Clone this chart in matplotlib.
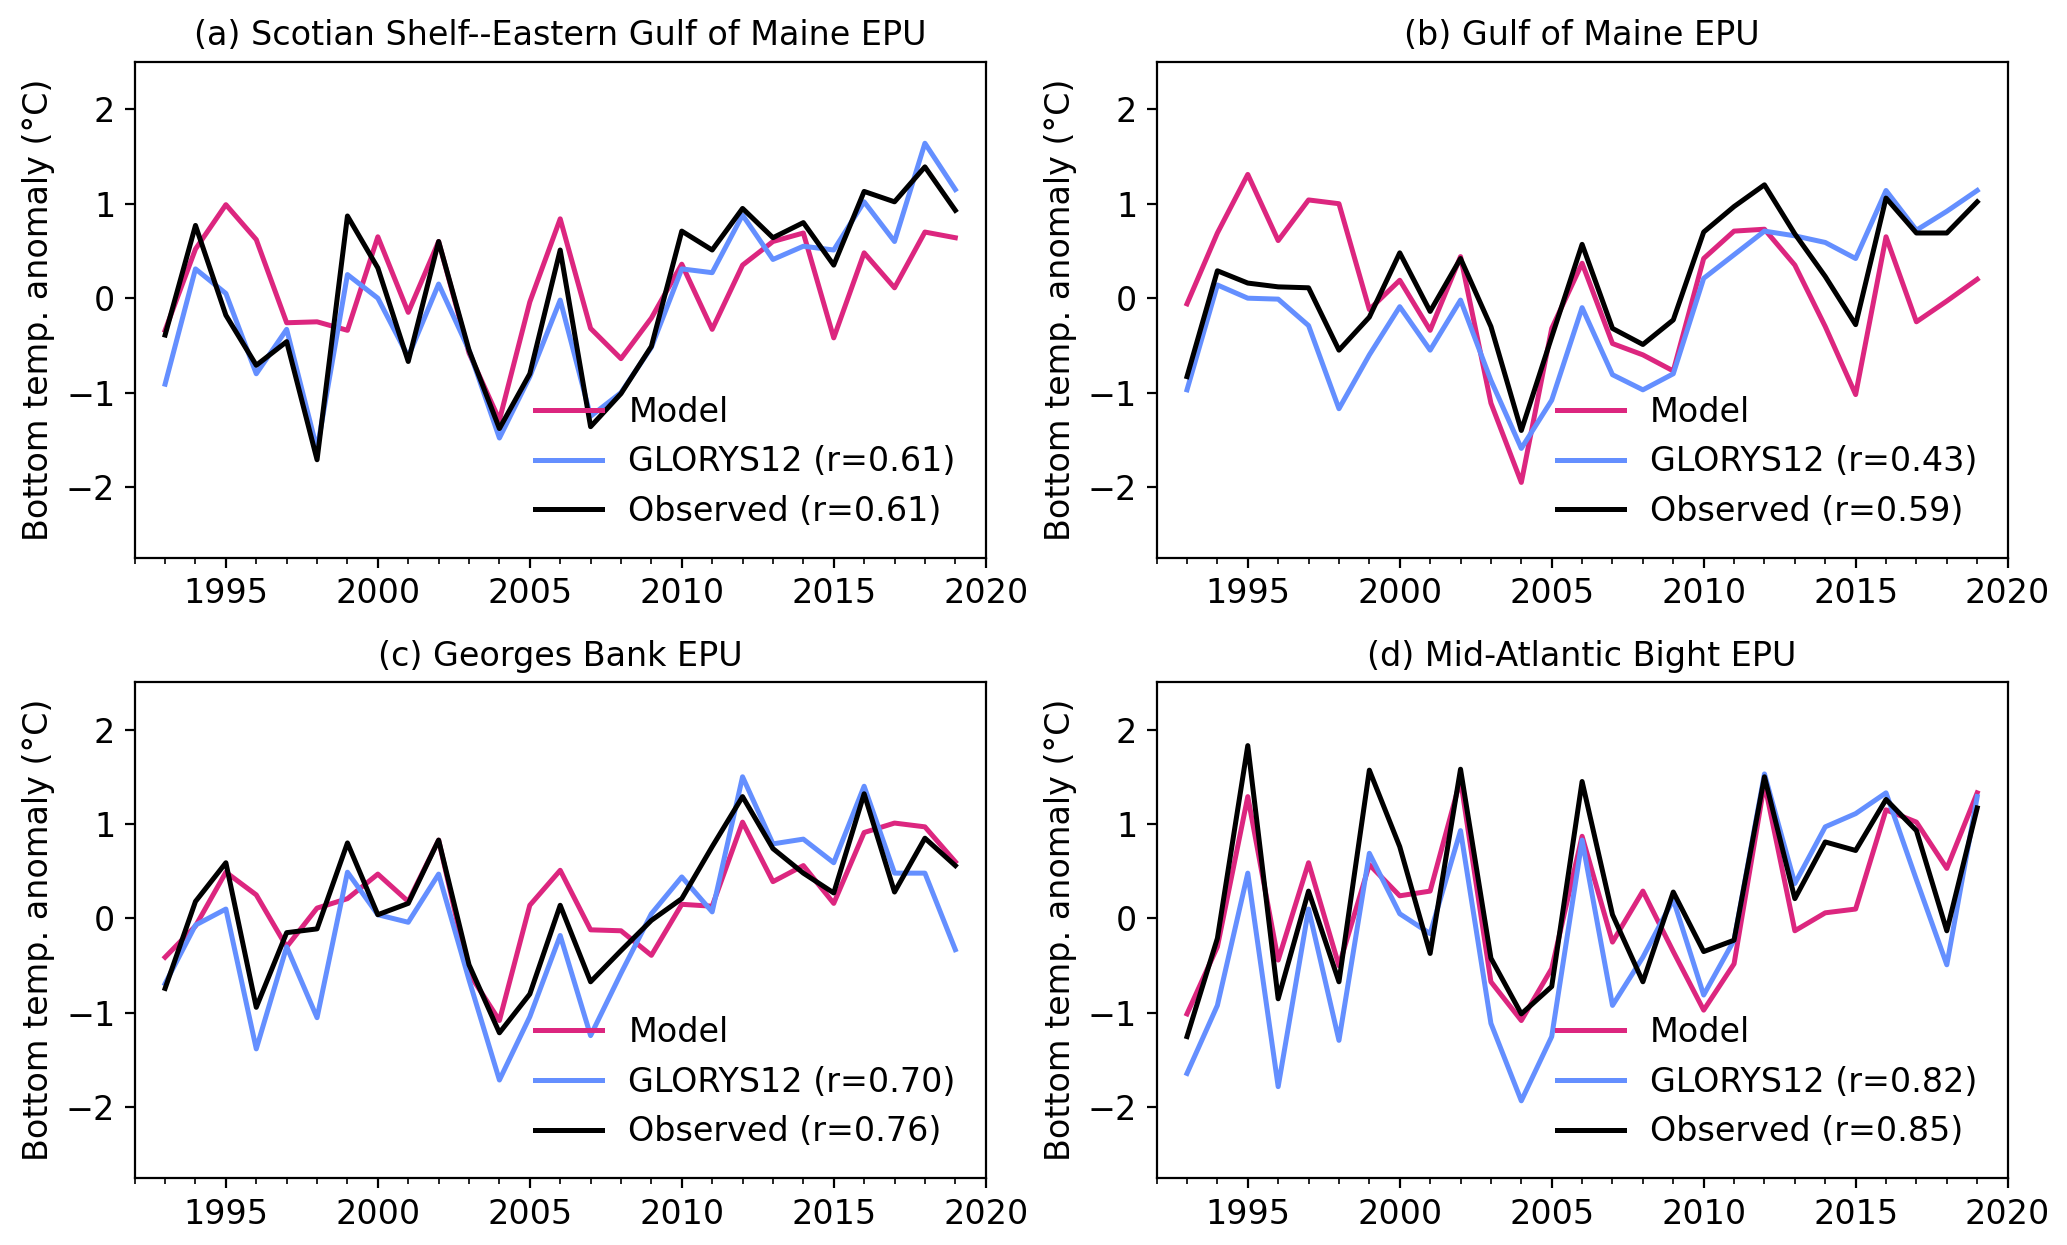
import matplotlib

matplotlib.use("Agg")
import matplotlib.pyplot as plt
import numpy as np
from matplotlib.ticker import MultipleLocator

years = np.arange(1993, 2020)

titles = [
    "(a) Scotian Shelf--Eastern Gulf of Maine EPU",
    "(b) Gulf of Maine EPU",
    "(c) Georges Bank EPU",
    "(d) Mid-Atlantic Bight EPU",
]

# (a) Scotian Shelf--Eastern Gulf of Maine
model_a = [-0.34, 0.52, 0.99, 0.62, -0.26, -0.25, -0.34, 0.65, -0.15, 0.60, -0.58, -1.29, -0.04, 0.84,
           -0.32, -0.64, -0.21, 0.36, -0.33, 0.35, 0.60, 0.69, -0.42, 0.48, 0.11, 0.70, 0.64]
glorys_a = [-0.91, 0.31, 0.05, -0.80, -0.33, -1.60, 0.25, 0.00, -0.62, 0.15, -0.55, -1.48, -0.83, -0.02,
            -1.25, -1.00, -0.52, 0.31, 0.27, 0.88, 0.41, 0.55, 0.51, 1.02, 0.60, 1.64, 1.15]
obs_a = [-0.39, 0.77, -0.18, -0.71, -0.46, -1.71, 0.87, 0.32, -0.67, 0.60, -0.55, -1.38, -0.80, 0.51,
         -1.36, -1.01, -0.51, 0.71, 0.51, 0.95, 0.64, 0.80, 0.35, 1.13, 1.02, 1.39, 0.93]

# (b) Gulf of Maine
model_b = [-0.06, 0.69, 1.31, 0.61, 1.04, 1.00, -0.12, 0.19, -0.34, 0.44, -1.11, -1.95, -0.32, 0.37,
           -0.48, -0.60, -0.77, 0.42, 0.71, 0.73, 0.35, -0.30, -1.02, 0.65, -0.25, -0.03, 0.20]
glorys_b = [-0.97, 0.14, 0.00, -0.01, -0.29, -1.17, -0.60, -0.09, -0.55, -0.02, -0.87, -1.59, -1.08, -0.10,
            -0.81, -0.97, -0.80, 0.21, 0.46, 0.71, 0.66, 0.59, 0.42, 1.14, 0.72, 0.92, 1.14]
obs_b = [-0.83, 0.29, 0.16, 0.12, 0.11, -0.55, -0.20, 0.48, -0.14, 0.42, -0.30, -1.40, -0.41, 0.57,
         -0.32, -0.49, -0.23, 0.70, 0.97, 1.20, 0.68, 0.23, -0.28, 1.06, 0.69, 0.69, 1.02]

# (c) Georges Bank
model_c = [-0.41, -0.08, 0.49, 0.25, -0.30, 0.11, 0.21, 0.47, 0.18, 0.83, -0.58, -1.08, 0.14, 0.51,
           -0.12, -0.13, -0.39, 0.15, 0.13, 1.02, 0.39, 0.56, 0.16, 0.91, 1.01, 0.97, 0.60]
glorys_c = [-0.69, -0.07, 0.10, -1.38, -0.30, -1.05, 0.49, 0.04, -0.04, 0.47, -0.65, -1.71, -1.04, -0.18,
            -1.24, -0.58, 0.05, 0.44, 0.07, 1.50, 0.79, 0.84, 0.59, 1.40, 0.48, 0.48, -0.33]
obs_c = [-0.74, 0.18, 0.59, -0.94, -0.15, -0.11, 0.80, 0.04, 0.16, 0.83, -0.49, -1.21, -0.80, 0.14,
         -0.67, -0.34, -0.02, 0.21, 0.76, 1.29, 0.74, 0.48, 0.27, 1.32, 0.28, 0.85, 0.56]

# (d) Mid-Atlantic Bight
model_d = [-1.01, -0.30, 1.29, -0.44, 0.59, -0.50, 0.57, 0.24, 0.29, 1.47, -0.67, -1.08, -0.53, 0.87,
           -0.25, 0.29, -0.35, -0.97, -0.48, 1.43, -0.13, 0.06, 0.10, 1.15, 1.02, 0.53, 1.33]
glorys_d = [-1.64, -0.92, 0.48, -1.78, 0.10, -1.29, 0.69, 0.05, -0.16, 0.93, -1.11, -1.93, -1.25, 0.83,
            -0.92, -0.41, 0.20, -0.81, -0.23, 1.53, 0.37, 0.97, 1.11, 1.33, 0.41, -0.49, 1.29]
obs_d = [-1.25, -0.21, 1.83, -0.85, 0.29, -0.67, 1.57, 0.76, -0.37, 1.58, -0.42, -1.01, -0.72, 1.45,
         0.04, -0.67, 0.28, -0.35, -0.23, 1.50, 0.21, 0.81, 0.72, 1.26, 0.93, -0.13, 1.17]

r_glorys = [0.61, 0.43, 0.70, 0.82]
r_obs = [0.61, 0.59, 0.76, 0.85]

models = [model_a, model_b, model_c, model_d]
glorys = [glorys_a, glorys_b, glorys_c, glorys_d]
observed = [obs_a, obs_b, obs_c, obs_d]

MODEL_COLOR = "#DC267F"
GLORYS_COLOR = "#648FFF"

plt.rcParams["font.size"] = 12

W, H = 2067, 1245
fig = plt.figure(figsize=(W / 200, H / 200), dpi=200)

lefts = [134.7, 1156.6, 134.7, 1156.6]
tops = [62, 62, 682.3, 682.3]
aw, ah = 851, 496

for i in range(4):
    ax = fig.add_axes([lefts[i] / W, 1 - (tops[i] + ah) / H, aw / W, ah / H])
    ax.plot(years, models[i], color=MODEL_COLOR, lw=1.8, label="Model")
    ax.plot(years, glorys[i], color=GLORYS_COLOR, lw=1.8, label=f"GLORYS12 (r={r_glorys[i]:.2f})")
    ax.plot(years, observed[i], color="black", lw=1.8, label=f"Observed (r={r_obs[i]:.2f})")
    ax.set_xlim(1992, 2020)
    ax.set_ylim(-2.75, 2.5)
    ax.set_xticks(np.arange(1995, 2021, 5))
    ax.xaxis.set_minor_locator(MultipleLocator(1))
    ax.set_yticks([-2, -1, 0, 1, 2])
    ax.set_ylabel("Bottom temp. anomaly (°C)")
    ax.set_title(titles[i], fontsize=12)
    ax.legend(loc="lower right", frameon=False)

fig.savefig("out.png", dpi=200)
